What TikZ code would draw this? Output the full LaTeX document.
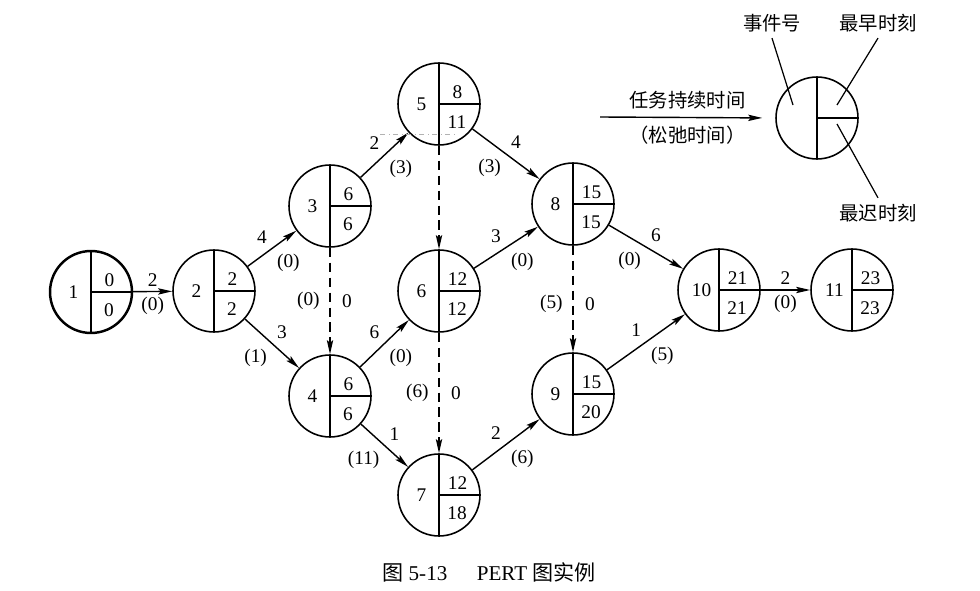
\documentclass[tikz,border=0pt]{standalone}
\usepackage{fontspec}
\setmainfont{Liberation Serif}
\newfontfamily\cjk{Noto Sans CJK SC}
\usetikzlibrary{arrows,arrows.meta,calc}

\tikzset{
  cross/.style={path picture={\draw[line width=0.9pt]
      (path picture bounding box.north) -- (path picture bounding box.south)
      (path picture bounding box.center) -- (path picture bounding box.east);}},
  legendcircle/.style={circle,draw,line width=0.9pt,minimum size=1.64cm,inner sep=0pt,cross},
  event/.style n args={3}{legendcircle,
      label={[xshift=-0.35cm]center:#1},
      label={[xshift=0.37cm,yshift=0.23cm]center:#2},
      label={[xshift=0.36cm,yshift=-0.36cm]center:#3}},
  task/.style={-{Stealth[length=8pt,width=3.6pt,inset=1.5pt]},line width=0.8pt},
  dummy/.style={task,dash pattern=on 5.5pt off 3pt},
  lab/.style={inner sep=2.5pt}
}

\begin{document}
\begin{tikzpicture}[x=0.02cm,y=-0.02cm,font=\fontsize{11}{13}\selectfont]
\useasboundingbox (0,0) rectangle (980,591);

% events
\node[event={1}{0}{0},line width=1.4pt] (n1) at (91,292) {};
\node[event={2}{2}{2}] (n2) at (214,291) {};
\node[event={3}{6}{6}] (n3) at (330,206) {};
\node[event={4}{6}{6}] (n4) at (330,396) {};
\node[event={5}{8}{11}] (n5) at (439,104) {};
\node[event={6}{12}{12}] (n6) at (439,291) {};
\node[event={7}{12}{18}] (n7) at (439,495) {};
\node[event={8}{15}{15}] (n8) at (573,204) {};
\node[event={9}{15}{20}] (n9) at (573,394) {};
\node[event={10}{21}{21}] (n10) at (719,290) {};
\node[event={11}{23}{23}] (n11) at (852,290) {};

% tasks
\draw[task] (n1) -- node[lab,above]{2} node[lab,below]{(0)} (n2);
\draw[task] (n2) -- node[lab,above left]{4} node[lab,below right]{(0)} (n3);
\draw[task] (n2) -- node[lab,above right]{3} node[lab,below left]{(1)} (n4);
\draw[task] (n3) -- node[lab,above left]{2} node[lab,below right]{(3)} (n5);
\draw[task] (n5) -- node[lab,above right]{4} node[lab,below left]{(3)} (n8);
\draw[task] (n4) -- node[lab,above left]{6} node[lab,below right]{(0)} (n6);
\draw[task] (n6) -- node[lab,above left]{3} node[lab,below right]{(0)} (n8);
\draw[task] (n4) -- node[lab,above right]{1} node[lab,below left]{(11)} (n7);
\draw[task] (n7) -- node[lab,above left]{2} node[lab,below right]{(6)} (n9);
\draw[task] (n8) -- node[lab,above right]{6} node[lab,below left]{(0)} (n10);
\draw[task] (n9) -- node[lab,above left]{1} node[lab,below right]{(5)} (n10);
\draw[task] (n10) -- node[lab,above]{2} node[lab,below]{(0)} (n11);

% dummy tasks
\draw[dummy] (n3) -- node[lab,left=3pt]{(0)} node[lab,right=4pt]{0} (n4);
\draw[dummy] (n5) -- (n6);
\draw[dummy] (n6) -- node[lab,left=3pt]{(6)} node[lab,right=4pt]{0} (n7);
\draw[dummy] (n8) -- node[lab,pos=.55,left=3pt]{(5)} node[lab,pos=.55,right=4pt]{0} (n9);

\draw[gray!60,line width=0.4pt,dash dot] (380,134) -- (458,134);

% legend
\node[legendcircle] (lg) at (817,118) {};
\node (ev) at (772,23) {\cjk 事件号};
\node (es) at (878,23) {\cjk 最早时刻};
\node (ls) at (878,213) {\cjk 最迟时刻};
\coordinate (evp) at (793,105);
\coordinate (esp) at (837,105);
\coordinate (lsp) at (837,124);
\draw[line width=0.7pt] (ev.south) -- (evp);
\draw[line width=0.7pt] (es.south) -- (esp);
\draw[line width=0.7pt] (lsp) -- (ls.north);
\coordinate (la) at (600,117);
\draw[task,shorten >=0.26cm] (la) -- node[above=1pt]{\cjk 任务持续时间} node[below=1pt]{\cjk （松弛时间）} (lg.west);

\node[font=\fontsize{12}{14}\selectfont] (cap) at (489,572) {{\cjk 图} 5-13\hspace{1.4em}PERT {\cjk 图实例}};

\end{tikzpicture}
\end{document}
